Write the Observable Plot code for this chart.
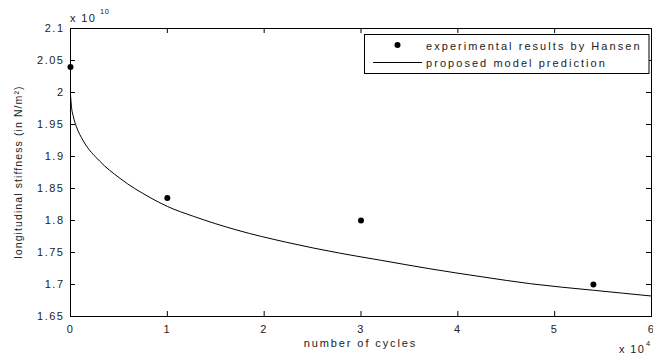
<!DOCTYPE html>
<html>
<head>
<meta charset="utf-8">
<script src="https://cdn.jsdelivr.net/npm/d3@7"></script>
<script src="https://cdn.jsdelivr.net/npm/@observablehq/plot@0.6"></script>
<style>
  html, body { margin: 0; padding: 0; background: #fff; }
  #chart { width: 653px; height: 358px; overflow: hidden; }
</style>
</head>
<body>
<div id="chart"></div>
<script>
// Experimental results by Hansen (cycles in units of 1e4, stiffness in 1e10 N/m^2)
const expCycles = [0, 1, 3, 5.4];
const expStiffness = [2.04, 1.835, 1.80, 1.70];

// Proposed model prediction
const modelCycles = [0, 0.01, 0.03, 0.06, 0.13, 0.30, 0.51, 0.82, 1.0, 1.27, 1.72, 2.23, 2.78, 3.2, 3.71, 4.25, 4.75, 5.4, 6.0];
const modelStiffness = [1.996, 1.978, 1.962, 1.947, 1.925, 1.893, 1.866, 1.836, 1.822, 1.8065, 1.785, 1.766, 1.749, 1.738, 1.7246, 1.712, 1.7012, 1.691, 1.682];

const xTicks = [0, 1, 2, 3, 4, 5, 6];
const yTicks = [1.65, 1.7, 1.75, 1.8, 1.85, 1.9, 1.95, 2, 2.05, 2.1];

const legendLabels = ["experimental results by Hansen", "proposed model prediction"];
const xLabel = "number of cycles";
const yLabel = "longitudinal stiffness (in N/m\u00B2)";

const expData = expCycles.map((x, i) => ({x, y: expStiffness[i]}));
const modelData = modelCycles.map((x, i) => ({x, y: modelStiffness[i]}));

const W = 653, H = 358, mL = 70, mR = 2, mT = 28, mB = 42;
const fw = W - mL - mR, fh = H - mT - mB;
const tl = 5;

const plot = Plot.plot({
  width: W,
  height: H,
  marginLeft: mL,
  marginRight: mR,
  marginTop: mT,
  marginBottom: mB,
  style: "font-family: 'Liberation Sans', Arial, sans-serif; font-size: 11px; letter-spacing: 1.5px; color: #222; background: #fff; overflow: visible;",
  x: {domain: [0, 6]},
  y: {domain: [1.65, 2.1]},
  marks: [
    Plot.frame({stroke: "#000", strokeWidth: 1}),
    // inward ticks: bottom & top
    Plot.tickX(xTicks, {x: d => d, insetTop: fh - tl, stroke: "#000"}),
    Plot.tickX(xTicks, {x: d => d, insetBottom: fh - tl, stroke: "#000"}),
    // inward ticks: left & right
    Plot.tickY(yTicks, {y: d => d, insetRight: fw - tl, stroke: "#000"}),
    Plot.tickY(yTicks, {y: d => d, insetLeft: fw - tl, stroke: "#000"}),
    Plot.axisX(xTicks, {tickSize: 0, tickPadding: 9, label: null, fill: "#222"}),
    Plot.axisY(yTicks, {tickSize: 0, tickPadding: 6, label: null, fill: "#222",
      tickFormat: d => String(+d.toFixed(2))}),
    Plot.line(modelData, {x: "x", y: "y", stroke: "#000", strokeWidth: 1, curve: "monotone-x"}),
    Plot.dot(expData, {x: "x", y: "y", r: 3, fill: "#000", stroke: "none"})
  ]
});

document.getElementById("chart").appendChild(plot);

const svg = d3.select(plot);
const txt = (x, y, s, opts = {}) => {
  const t = svg.append("text").attr("x", x).attr("y", y).text(s)
    .attr("fill", "#222")
    .attr("text-anchor", opts.anchor || "start")
    .style("font-family", "'Liberation Sans', Arial, sans-serif");
  t.style("font-size", (opts.size || 11) + "px")
   .style("letter-spacing", (opts.ls != null ? opts.ls : 1.4) + "px");
  if (opts.transform) t.attr("transform", opts.transform);
  return t;
};

// axis labels
txt(mL + fw / 2, 347, xLabel, {size: 11, ls: 1.9, anchor: "middle"});
txt(0, 0, yLabel, {size: 10.5, ls: 1.1, anchor: "middle", transform: `translate(22,${mT + fh / 2}) rotate(-90)`});

// exponent labels
txt(70, 22, "x 10", {size: 11, ls: 1.4});
txt(100, 14, "10", {size: 7.5, ls: 0.6});
txt(619, 353, "x 10", {size: 11, ls: 1.4});
txt(646, 346, "4", {size: 7.5, ls: 0});

// legend
const lg = svg.append("g");
lg.append("rect").attr("x", 364.5).attr("y", 34.5).attr("width", 284.5).attr("height", 39)
  .attr("fill", "#fff").attr("stroke", "#000").attr("stroke-width", 1);
lg.append("circle").attr("cx", 397.5).attr("cy", 45).attr("r", 3).attr("fill", "#000");
lg.append("line").attr("x1", 373).attr("x2", 422).attr("y1", 62.5).attr("y2", 62.5)
  .attr("stroke", "#000").attr("stroke-width", 1);
txt(426, 49.5, legendLabels[0], {size: 11, ls: 2.05});
txt(426, 66.5, legendLabels[1], {size: 11, ls: 2.05});
</script>
</body>
</html>
